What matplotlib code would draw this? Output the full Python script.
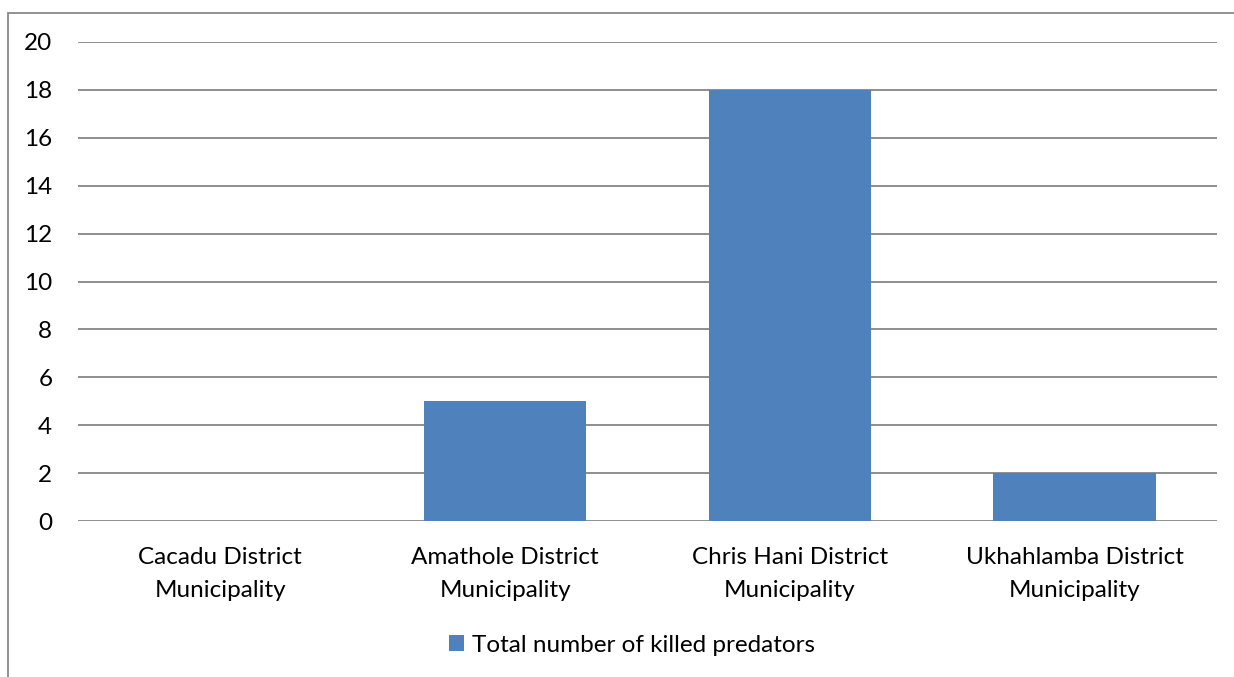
import matplotlib
matplotlib.use("Agg")
import matplotlib.pyplot as plt
from matplotlib.patches import Rectangle

categories = ["Cacadu District\nMunicipality", "Amathole District\nMunicipality",
              "Chris Hani District\nMunicipality", "Ukhahlamba District\nMunicipality"]
values = [0, 5, 18, 2]
series_name = "Total number of killed predators"
yticks = [0, 2, 4, 6, 8, 10, 12, 14, 16, 18, 20]

plt.rcParams['font.family'] = ['Lato', 'DejaVu Sans']
W, H = 1234, 677
fig = plt.figure(figsize=(W/100, H/100), dpi=100)
ax = fig.add_axes([78/W, 1-521/H, (1217-78)/W, (521-42)/H])

x = list(range(len(categories)))
ax.bar(x, values, width=0.57, color="#4f81bd", zorder=3, label=series_name)
ax.set_xlim(-0.5, len(categories)-0.5)
ax.set_ylim(0, 20)
ax.set_yticks(yticks)
ax.yaxis.grid(True, color="#868686", linewidth=1.3, zorder=0)
ax.set_axisbelow(True)
for s in ax.spines.values():
    s.set_visible(False)
FS = 17.5
ax.tick_params(axis='both', length=0, labelsize=FS, colors="#000000")
ax.tick_params(axis='y', pad=18.5)
ax.set_xticks(x)
ax.set_xticklabels(categories, linespacing=1.75)
ax.tick_params(axis='x', pad=18.5)

leg = fig.legend(loc='center', bbox_to_anchor=(632/W, 1-645/H), frameon=False,
                 fontsize=FS, handlelength=0.6, handleheight=0.6, handletextpad=0.35)

fig.patches.append(Rectangle((8/W, -0.1), 1.2, 1-13/H+0.1, transform=fig.transFigure,
                             fill=False, edgecolor="#898989", linewidth=1.3))
fig.savefig("out.png", dpi=100)
